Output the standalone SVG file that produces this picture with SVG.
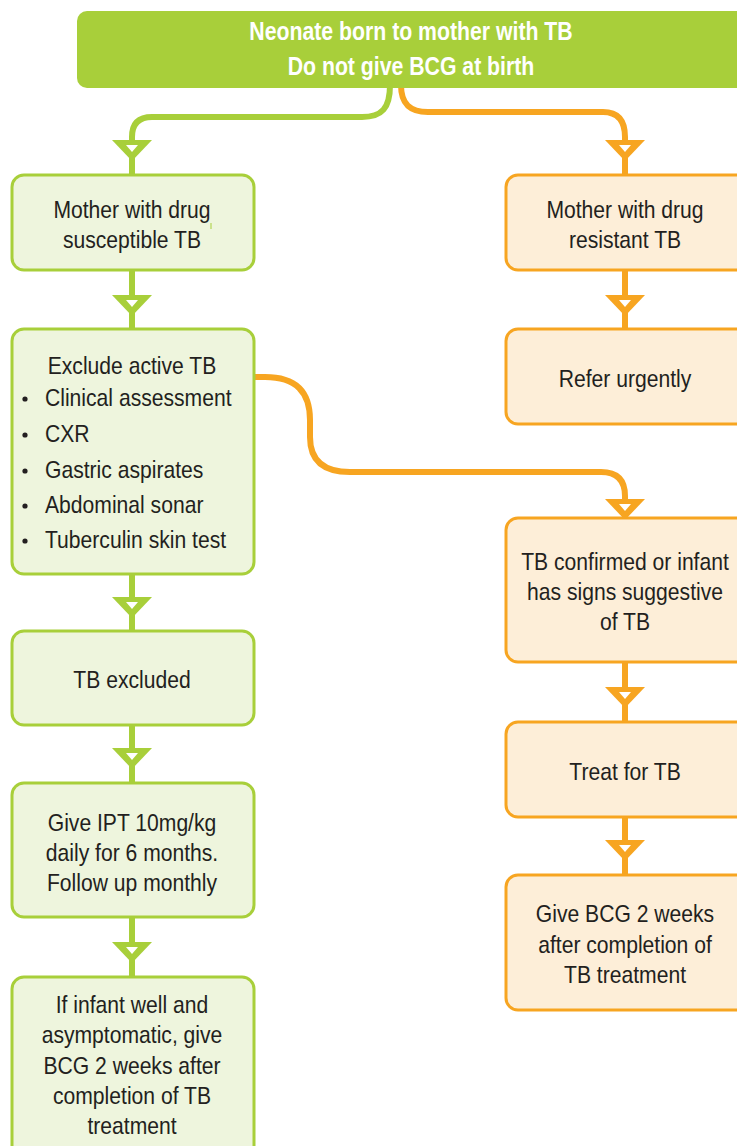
<svg xmlns="http://www.w3.org/2000/svg" width="737" height="1146" viewBox="0 0 737 1146">
<style>
.gbox{fill:#eef5dd;stroke:#a8cf3a;stroke-width:3}
.obox{fill:#fdeed8;stroke:#f7a521;stroke-width:3}
.t{font-family:"Liberation Sans",Arial,sans-serif;font-size:24px;fill:#231f20}
.c{text-anchor:middle}
.h{font-family:"Liberation Sans",Arial,sans-serif;font-size:25px;font-weight:bold;fill:#ffffff;text-anchor:middle}
.gl{fill:none;stroke:#a8cf3a;stroke-width:6}
.ol{fill:none;stroke:#f7a521;stroke-width:6}
</style>
<defs>
<g id="ahG"><polygon points="-20,0 20,0 0,21" fill="#a8cf3a"/><polygon points="-6,5 6,5 0,12" fill="#ffffff"/></g>
<g id="ahO"><polygon points="-20,0 20,0 0,21" fill="#f7a521"/><polygon points="-6,5 6,5 0,12" fill="#ffffff"/></g>
</defs>

<g id="connectors">
<path class="gl" d="M390,85 C390,108 382,117 362,117 L152,117 Q132,117 132,137 L132,175"/>
<path class="ol" d="M401,85 C401,104 410,112 428,112 L603,112 Q625,112 625,137 L625,175"/>
<path class="gl" d="M132,270 L132,329"/>
<path class="gl" d="M132,574 L132,631"/>
<path class="gl" d="M132,725 L132,783"/>
<path class="gl" d="M132,917 L132,977"/>
<path class="ol" d="M625,270 L625,329"/>
<path class="ol" d="M254,377 L265,377 C296,377 310,392 310,420 L310,437 C310,461 324,472 350,472 L601,472 Q625,472 625,496 L625,518"/>
<path class="ol" d="M625,662 L625,722"/>
<path class="ol" d="M625,817 L625,875"/>
<use href="#ahG" transform="translate(132,140)"/>
<use href="#ahG" transform="translate(132,295)"/>
<use href="#ahG" transform="translate(132,597)"/>
<use href="#ahG" transform="translate(132,748)"/>
<use href="#ahG" transform="translate(132,942)"/>
<use href="#ahO" transform="translate(625,140)"/>
<use href="#ahO" transform="translate(625,295)"/>
<use href="#ahO" transform="translate(625,499)"/>
<use href="#ahO" transform="translate(625,687)"/>
<use href="#ahO" transform="translate(625,840)"/>
</g>

<g id="top">
<rect x="77" y="11" width="700" height="77" rx="10" fill="#a8cf3a"/>
<g transform="translate(411,0) scale(0.85,1)">
<text class="h" x="0" y="40">Neonate born to mother with TB</text>
<text class="h" x="0" y="75">Do not give BCG at birth</text>
</g>
</g>

<g id="n_susceptible">
<rect class="gbox" x="12" y="175" width="242" height="95" rx="12"/>
<g transform="translate(132,0) scale(0.88,1)">
<text class="t c" x="0" y="218">Mother with drug</text>
<text class="t c" x="0" y="248">susceptible TB</text>
</g>
<line x1="211" y1="223" x2="211" y2="229" stroke="#a8cf3a" stroke-width="1"/>
</g>

<g id="n_exclude">
<rect class="gbox" x="12" y="329" width="242" height="245" rx="12"/>
<g transform="translate(132,0) scale(0.88,1)">
<text class="t c" x="0" y="374">Exclude active TB</text>
</g>
<g fill="#231f20">
<circle cx="25" cy="399" r="2.6"/>
<circle cx="25" cy="435" r="2.6"/>
<circle cx="25" cy="471" r="2.6"/>
<circle cx="25" cy="506" r="2.6"/>
<circle cx="25" cy="541" r="2.6"/>
</g>
<g transform="translate(45,0) scale(0.88,1)">
<text class="t" x="0" y="406">Clinical assessment</text>
<text class="t" x="0" y="442">CXR</text>
<text class="t" x="0" y="478">Gastric aspirates</text>
<text class="t" x="0" y="513">Abdominal sonar</text>
<text class="t" x="0" y="548">Tuberculin skin test</text>
</g>
</g>

<g id="n_excluded">
<rect class="gbox" x="12" y="631" width="242" height="94" rx="12"/>
<g transform="translate(132,0) scale(0.88,1)">
<text class="t c" x="0" y="688">TB excluded</text>
</g>
</g>

<g id="n_ipt">
<rect class="gbox" x="12" y="783" width="242" height="134" rx="12"/>
<g transform="translate(132,0) scale(0.88,1)">
<text class="t c" x="0" y="831">Give IPT 10mg/kg</text>
<text class="t c" x="0" y="861">daily for 6 months.</text>
<text class="t c" x="0" y="891">Follow up monthly</text>
</g>
</g>

<g id="n_bcg_left">
<rect class="gbox" x="12" y="977" width="242" height="190" rx="12"/>
<g transform="translate(132,0) scale(0.88,1)">
<text class="t c" x="0" y="1013">If infant well and</text>
<text class="t c" x="0" y="1043">asymptomatic, give</text>
<text class="t c" x="0" y="1074">BCG 2 weeks after</text>
<text class="t c" x="0" y="1104">completion of TB</text>
<text class="t c" x="0" y="1134">treatment</text>
</g>
</g>

<g id="n_resistant">
<rect class="obox" x="506" y="175" width="245" height="95" rx="12"/>
<g transform="translate(625,0) scale(0.88,1)">
<text class="t c" x="0" y="218">Mother with drug</text>
<text class="t c" x="0" y="248">resistant TB</text>
</g>
</g>

<g id="n_refer">
<rect class="obox" x="506" y="329" width="245" height="95" rx="12"/>
<g transform="translate(625,0) scale(0.88,1)">
<text class="t c" x="0" y="387">Refer urgently</text>
</g>
</g>

<g id="n_confirmed">
<rect class="obox" x="506" y="518" width="245" height="144" rx="12"/>
<g transform="translate(625,0) scale(0.88,1)">
<text class="t c" x="0" y="570">TB confirmed or infant</text>
<text class="t c" x="0" y="600">has signs suggestive</text>
<text class="t c" x="0" y="630">of TB</text>
</g>
</g>

<g id="n_treat">
<rect class="obox" x="506" y="722" width="245" height="95" rx="12"/>
<g transform="translate(625,0) scale(0.88,1)">
<text class="t c" x="0" y="780">Treat for TB</text>
</g>
</g>

<g id="n_bcg_right">
<rect class="obox" x="506" y="875" width="245" height="135" rx="12"/>
<g transform="translate(625,0) scale(0.88,1)">
<text class="t c" x="0" y="922">Give BCG 2 weeks</text>
<text class="t c" x="0" y="953">after completion of</text>
<text class="t c" x="0" y="983">TB treatment</text>
</g>
</g>
</svg>
